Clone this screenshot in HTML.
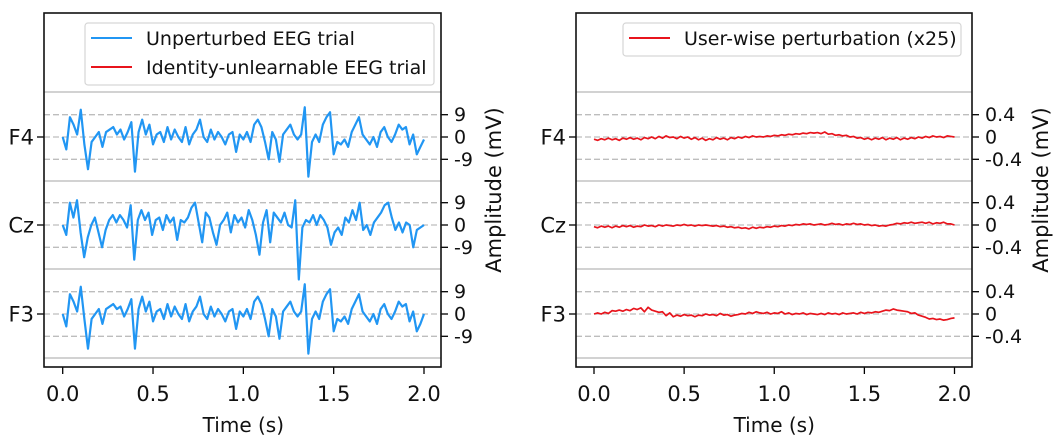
<!DOCTYPE html>
<html><head><meta charset="utf-8"><style>
html,body{margin:0;padding:0;background:#fff;}
svg{display:block;font-family:"DejaVu Sans","Liberation Sans",sans-serif;}
</style></head><body>
<svg id="chart" width="1064" height="448" viewBox="0 0 1064 448" xmlns="http://www.w3.org/2000/svg"></svg>
<script>
const channels = ["F4","Cz","F3"];
const xTicks = [0, 0.5, 1.0, 1.5, 2.0];
const xTickLabels = ["0.0","0.5","1.0","1.5","2.0"];
const leftYTicks = [9, 0, -9];
const leftYTickLabels = ["9","0","-9"];
const rightYTicks = [0.4, 0, -0.4];
const rightYTickLabels = ["0.4","0","-0.4"];
const duration = 2.0;
const eegF4 = [0,-5,8,5,1,11,-3,-13,-2,0,2,-4,2,3,4,1,3,-1,2,6,-14,2,7,1,5,-3,1,2,-2,4,-1,3,0,-2,4,-3,1,3,7,0,-2,3,-1,2,0,-3,1,2,-6,1,-1,2,-2,5,7,4,-2,-9,2,-1,-10,1,3,5,1,-1,1,12,-16,-2,1,-2,5,8,10,-7,-2,-3,-1,-4,2,5,8,1,-1,-3,0,-4,2,4,0,-2,1,5,3,4,-3,1,-7,-4,-1];
const eegCz = [0,-4,9,3,10,-3,-13,-5,0,3,-3,-9,-2,2,4,1,4,2,-1,8,-14,2,6,2,5,-4,2,3,-2,4,1,3,-6,2,1,3,7,9,1,-7,5,3,-3,-8,0,2,5,-3,4,1,3,-1,6,2,-4,-12,1,6,-7,5,3,1,5,0,-1,10,-22,-1,2,1,4,0,4,2,-1,-8,-3,-1,-4,3,1,6,2,9,-2,0,-4,1,3,5,8,9,3,-2,1,-3,1,0,-9,-2,-1,0];
const eegF3 = [0,-5,8,5,1,11,-2,-14,-2,0,2,-4,2,3,4,2,3,-1,2,6,-14,2,7,1,5,-3,1,2,-2,4,-1,3,0,-2,4,-3,1,3,7,0,-2,3,-1,2,0,-3,1,2,-6,1,-1,2,-2,5,7,4,-2,-9,2,-1,-10,1,3,5,1,-1,1,12,-16,-2,1,-2,5,8,10,-7,-2,-3,-1,-4,2,5,8,1,-1,-3,0,-4,2,4,0,-2,1,5,3,4,-3,1,-7,-4,0];
const pertF4 = [-0.04,-0.06,-0.03,-0.05,-0.02,-0.05,-0.03,-0.06,-0.02,-0.04,-0.01,-0.04,-0.02,-0.05,-0.01,-0.03,0.00,-0.03,0.01,-0.02,0.02,-0.01,0.00,-0.03,0.01,-0.02,0.00,-0.04,-0.01,-0.05,-0.02,-0.06,-0.03,-0.05,-0.01,-0.04,-0.02,-0.05,-0.01,-0.03,0.00,-0.02,0.01,-0.01,0.02,0.00,0.01,0.00,0.02,0.01,0.03,0.02,0.04,0.03,0.05,0.04,0.06,0.05,0.07,0.06,0.08,0.07,0.08,0.06,0.09,0.05,0.06,0.03,0.04,0.02,0.03,0.00,0.01,-0.02,-0.01,-0.04,-0.02,-0.05,-0.02,-0.04,-0.01,-0.05,-0.02,-0.04,-0.01,-0.05,-0.02,-0.04,-0.01,-0.03,0.00,-0.02,0.01,-0.01,0.02,0.00,0.01,-0.01,0.02,0.01,0.00];
const pertCz = [-0.03,-0.05,-0.02,-0.04,-0.02,-0.05,-0.02,-0.04,-0.01,-0.03,-0.01,-0.04,-0.02,-0.03,0.00,-0.02,-0.01,-0.03,0.00,-0.02,0.00,-0.01,-0.02,0.00,-0.01,0.01,-0.01,0.00,-0.02,0.00,-0.01,0.00,-0.01,-0.02,-0.01,-0.03,-0.02,-0.04,-0.03,-0.05,-0.04,-0.06,-0.05,-0.07,-0.04,-0.06,-0.04,-0.05,-0.03,-0.04,-0.02,-0.03,-0.01,-0.02,0.00,-0.01,0.01,0.00,0.02,0.01,0.02,0.00,0.01,0.02,0.00,0.01,0.03,0.01,0.02,0.00,0.02,0.01,0.03,0.01,0.02,0.00,0.01,-0.01,0.00,-0.02,-0.01,-0.02,0.00,0.01,0.03,0.02,0.04,0.03,0.05,0.03,0.04,0.05,0.03,0.05,0.02,0.04,0.03,0.05,0.02,0.02,0.00];
const pertF3 = [0.00,0.02,0.00,0.03,0.01,0.06,0.05,0.07,0.05,0.08,0.06,0.10,0.08,0.11,0.04,0.12,0.07,0.05,0.03,0.04,-0.03,0.02,-0.05,-0.02,-0.04,-0.01,-0.03,-0.02,-0.05,-0.02,-0.03,0.00,-0.02,-0.01,-0.03,0.01,-0.02,-0.01,-0.04,-0.02,-0.01,0.01,0.00,0.03,0.01,0.04,0.02,0.01,0.03,0.00,0.02,0.01,0.04,0.00,0.02,-0.01,0.01,0.00,0.02,-0.01,0.01,0.00,-0.01,0.01,-0.01,0.02,0.00,0.01,-0.01,0.02,0.00,0.01,0.02,0.00,0.03,0.01,0.03,0.02,0.04,0.03,0.05,0.07,0.06,0.09,0.07,0.06,0.05,0.04,0.01,0.02,-0.02,-0.04,-0.06,-0.09,-0.08,-0.10,-0.09,-0.11,-0.10,-0.08,-0.07];

const NS="http://www.w3.org/2000/svg";
const svg=document.getElementById('chart');
function mk(tag,attrs,parent){const e=document.createElementNS(NS,tag);for(const k in attrs)e.setAttribute(k,attrs[k]);(parent||svg).appendChild(e);return e;}

const centers=[137,225,314];
const seps=[92,181,269,358];
const dash=22.3;

function panel(cfg){
  const g=mk('g',{});
  
  
  const xs=t=>cfg.x0+(t/duration)*(cfg.x2-cfg.x0);
  seps.forEach(y=>{const l=mk('line',{x1:cfg.L,x2:cfg.R,y1:y,y2:y,stroke:'#c4c4c4','stroke-width':1.4},g);
    
    });
  const py=cfg.tickVals[0];
  centers.forEach((c,ci)=>{
    cfg.tickVals.forEach((v,ti)=>{
      const y=c-v*dash/py;
      const d=mk('line',{x1:cfg.L,x2:cfg.R,y1:y,y2:y,stroke:'#bdbdbd','stroke-width':1.3,'stroke-dasharray':'6,3'},g);
      
      
      const tk=mk('line',{x1:cfg.R,x2:cfg.R+7,y1:y,y2:y,stroke:'#000','stroke-width':1.3},g);
      
      
      const tx=mk('text',{x:cfg.R+13,y:y+6.5,'font-size':19,fill:'#111'},g);
      tx.textContent=cfg.tickLabels[ti];
      
      
    });
    const tk=mk('line',{x1:cfg.L-7,x2:cfg.L,y1:c,y2:c,stroke:'#000','stroke-width':1.3},g);
    
    
    const lb=mk('text',{x:cfg.L-10,y:c+7.5,'font-size':21,'text-anchor':'end',fill:'#111'},g);
    lb.textContent=channels[ci];
    
    
    const data=cfg.series[ci];
    const n=data.length;
    const pts=data.map((v,i)=>xs(i*duration/(n-1)).toFixed(2)+','+(c-v*dash/py).toFixed(2)).join(' ');
    const pl=mk('polyline',{points:pts,fill:'none',stroke:cfg.color,'stroke-width':cfg.sw,'stroke-linejoin':'round'},g);
    
    
  });
  xTicks.forEach((t,i)=>{
    const x=xs(t);
    const tk=mk('line',{x1:x,x2:x,y1:367,y2:374,stroke:'#000','stroke-width':1.3},g);
    
    
    const tx=mk('text',{x:x,y:401,'font-size':21,'text-anchor':'middle',fill:'#111'},g);
    tx.textContent=xTickLabels[i];
    
    
  });
  const fr=mk('rect',{x:cfg.L,y:13,width:cfg.R-cfg.L,height:354,fill:'none',stroke:'#111','stroke-width':1.6},g);
  
  
  const xt=mk('text',{x:(cfg.x0+cfg.x2)/2,y:432,'font-size':20,'text-anchor':'middle',fill:'#111'},g);
  xt.textContent='Time (s)';
  
  
  const yt=mk('text',{x:0,y:0,'font-size':21,'text-anchor':'middle',fill:'#111',transform:'translate('+(cfg.ax+8)+',190) rotate(-90)'},g);
  yt.textContent='Amplitude (mV)';
  
  
  const lg=mk('g',{},g);
  
  
  const h=cfg.legend.length*29+4;
  mk('rect',{x:cfg.lx,y:23,width:cfg.lw,height:h,rx:3,fill:'#fff',stroke:'#d6d6d6','stroke-width':1.2},lg);
  cfg.legend.forEach((e,i)=>{
    const y=38+i*29;
    const ln=mk('line',{x1:cfg.lx+6,x2:cfg.lx+47,y1:y,y2:y,stroke:e[1],'stroke-width':2},lg);
    
    
    const t=mk('text',{x:cfg.lx+61,y:y+7,'font-size':19,fill:'#111'},lg);
    t.textContent=e[0];
    
    
  });
}
panel({name:'left-panel',L:44,R:441,x0:62.7,x2:424,ax:493,tickVals:leftYTicks,tickLabels:leftYTickLabels,series:[eegF4,eegCz,eegF3],color:'#2196f3',sw:2.2,lineName:'eeg-trace',lx:85,lw:349,
  legend:[['Unperturbed EEG trial','#2196f3'],['Identity-unlearnable EEG trial','#e8141c']]});
panel({name:'right-panel',L:576,R:972,x0:594,x2:954.5,ax:1040,tickVals:rightYTicks,tickLabels:rightYTickLabels,series:[pertF4,pertCz,pertF3],color:'#e8141c',sw:1.7,lineName:'perturbation-trace',lx:623,lw:338,
  legend:[['User-wise perturbation (x25)','#e8141c']]});
</script>
</body></html>
